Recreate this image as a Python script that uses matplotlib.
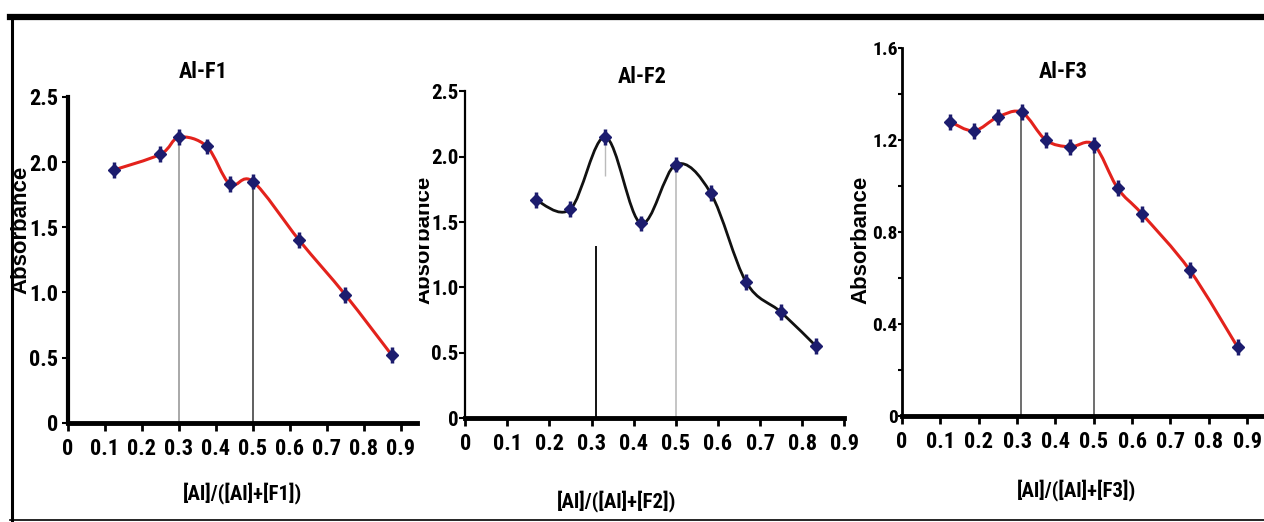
import matplotlib
matplotlib.use('agg')
import matplotlib.pyplot as plt
import numpy as np
from matplotlib.path import Path
from matplotlib.patches import PathPatch
from matplotlib.lines import Line2D
from matplotlib.transforms import Bbox

plt.rcParams['font.family'] = ['Roboto Condensed', 'DejaVu Sans']

# data
x_f1 = [0.125, 0.25, 0.30, 0.375, 0.4375, 0.50, 0.625, 0.75, 0.875]
y_f1 = [1.94, 2.06, 2.19, 2.12, 1.83, 1.85, 1.40, 0.98, 0.52]

x_f2 = [0.167, 0.25, 0.333, 0.417, 0.50, 0.583, 0.667, 0.75, 0.833]
y_f2 = [1.67, 1.60, 2.15, 1.49, 1.94, 1.72, 1.04, 0.81, 0.55]

x_f3 = [0.125, 0.1875, 0.25, 0.3125, 0.375, 0.4375, 0.50, 0.5625, 0.625, 0.75, 0.875]
y_f3 = [1.28, 1.24, 1.30, 1.32, 1.20, 1.17, 1.18, 0.99, 0.88, 0.635, 0.30]

titles = ["Al-F1", "Al-F2", "Al-F3"]
xlabels = ["[Al]/([Al]+[F1])", "[Al]/([Al]+[F2])", "[Al]/([Al]+[F3])"]
xticks = [0, 0.1, 0.2, 0.3, 0.4, 0.5, 0.6, 0.7, 0.8, 0.9]
xtick_labels = ["0", "0.1", "0.2", "0.3", "0.4", "0.5", "0.6", "0.7", "0.8", "0.9"]


def smooth_line(ax, xs, ys, color, lw):
    # excel-like smoothed line as cubic bezier through the points
    p = np.column_stack([xs, ys])
    n = len(p)
    verts = [p[0]]
    codes = [Path.MOVETO]
    for i in range(n - 1):
        p0 = p[i - 1] if i > 0 else p[i]
        p3 = p[i + 2] if i + 2 < n else p[i + 1]
        c1 = p[i] + (p[i + 1] - p0) / 6
        c2 = p[i + 1] - (p3 - p[i]) / 6
        verts += [c1, c2, p[i + 1]]
        codes += [Path.CURVE4] * 3
    ax.add_patch(PathPatch(Path(verts, codes), fill=False, edgecolor=color, lw=lw, zorder=2))


def markers(ax, xs, ys, err):
    ax.errorbar(xs, ys, yerr=err, fmt='D', ms=6.5, color='#1c1c6e', ecolor='#1c1c6e',
                elinewidth=2.5, capsize=0, zorder=3)


fig = plt.figure(figsize=(12.64, 5.22), dpi=100)

# panel 1
ax1 = fig.add_axes([0.0538, 0.190, 0.276, 0.6245])
ax1.vlines(0.30, 0, 2.19, color='#999999', lw=1.2, zorder=1)
ax1.vlines(0.50, 0, 1.85, color='#444444', lw=1.2, zorder=1)
smooth_line(ax1, x_f1, y_f1, '#e3221c', 2.2)
markers(ax1, x_f1, y_f1, 0.06)
ax1.set_xlim(0, 0.943)
ax1.set_ylim(0, 2.5)
ax1.set_yticks([0, 0.5, 1.0, 1.5, 2.0, 2.5])
ax1.set_yticklabels(["0", "0.5", "1.0", "1.5", "2.0", "2.5"])

# panel 2
ax2 = fig.add_axes([0.368, 0.199, 0.300, 0.626])
ax2.vlines(0.31, 0, 1.32, color='black', lw=1.3, zorder=1)
ax2.vlines(0.333, 1.85, 2.15, color='#bbbbbb', lw=1.0, zorder=1)
ax2.vlines(0.50, 0, 1.94, color='#bbbbbb', lw=1.2, zorder=1)
smooth_line(ax2, x_f2, y_f2, '#111111', 2.0)
markers(ax2, x_f2, y_f2, 0.06)
ax2.set_xlim(0, 0.9)
ax2.set_ylim(0, 2.5)
ax2.set_yticks([0, 0.5, 1.0, 1.5, 2.0, 2.5])
ax2.set_yticklabels(["0", "0.5", "1.0", "1.5", "2.0", "2.5"])

# panel 3
ax3 = fig.add_axes([0.7136, 0.203, 0.2864, 0.705])
ax3.vlines(0.31, 0, 1.32, color='#555555', lw=1.2, zorder=1)
ax3.vlines(0.50, 0, 1.18, color='#555555', lw=1.2, zorder=1)
smooth_line(ax3, x_f3, y_f3, '#e3221c', 2.2)
markers(ax3, x_f3, y_f3, 0.035)
ax3.set_xlim(0, 0.944)
ax3.set_ylim(0, 1.6)
ax3.set_yticks([0, 0.4, 0.8, 1.2, 1.6])
ax3.set_yticklabels(["0", "0.4", "0.8", "1.2", "1.6"])
ax3.set_yticks([0.2, 0.6, 1.0, 1.4], minor=True)

title_pos = [(0.387, 1.077), (0.467, 1.043), (0.445, 0.935)]
xlabel_pos = [(243, 493), (617, 501), (1077, 490)]
ylabel_pos = [(21, 230), (424, 240), (861, 240)]
left_w = [3.0, 1.6, 2.0]
ytick_pad = [3, 1, 0]
ytick_len = [4, 4, 3]
ytick_size = [16, 15, 14]

for i, ax in enumerate([ax1, ax2, ax3]):
    for s in ['top', 'right']:
        ax.spines[s].set_visible(False)
    ax.spines['bottom'].set_linewidth(3.5)
    ax.spines['left'].set_linewidth(left_w[i])
    ax.set_xticks(xticks)
    ax.set_xticklabels(xtick_labels)
    ax.tick_params(axis='x', direction='out', length=6, width=2, pad=5, labelsize=16)
    ax.tick_params(axis='y', which='both', direction='out', length=ytick_len[i], width=1.5,
                   pad=ytick_pad[i], labelsize=ytick_size[i])
    for lab in ax.get_xticklabels() + ax.get_yticklabels():
        lab.set_fontweight('bold')
    ax.text(title_pos[i][0], title_pos[i][1], titles[i], transform=ax.transAxes,
            ha='center', va='center', fontsize=16, fontweight='bold')
    fig.text(xlabel_pos[i][0] / 1264, 1 - xlabel_pos[i][1] / 522, xlabels[i],
             ha='center', va='center', fontsize=15, fontweight='bold')
    yl = fig.text(ylabel_pos[i][0] / 1264, 1 - ylabel_pos[i][1] / 522, "Absorbance",
                  rotation=90, ha='center', va='center', fontsize=16,
                  fontweight='bold', family='Liberation Sans')
    if i == 1:
        # the middle panel's label is cut at its left in the original
        yl.set_clip_box(Bbox.from_extents(419, 0, 1264, 522))
        yl.set_clip_on(True)

# frame around the figure
fig.add_artist(Line2D([0.008, 1.0], [0.968, 0.968], color='black', lw=4.5))
fig.add_artist(Line2D([0.0095, 0.0095], [0.0, 0.968], color='black', lw=2.2))
fig.add_artist(Line2D([0.008, 1.0], [0.004, 0.004], color='black', lw=1.2))

fig.savefig("out.png", dpi=100)
